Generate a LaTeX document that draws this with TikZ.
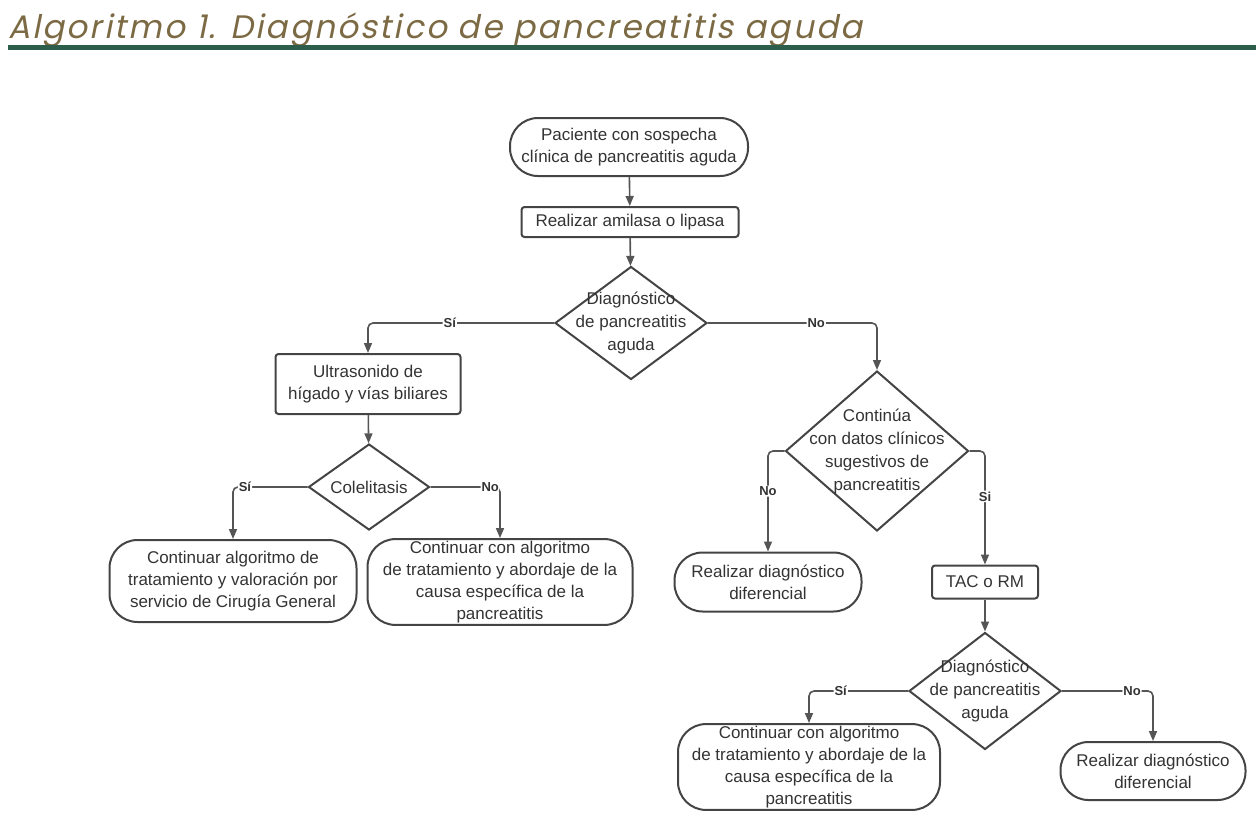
\documentclass[tikz,border=0pt]{standalone}
\usepackage{fontspec}
\setmainfont{Liberation Sans}
\newfontfamily\titlefont[FakeSlant=0.2,LetterSpace=7]{Poppins}
\usetikzlibrary{arrows.meta,shapes.geometric}
\definecolor{titlebrown}{HTML}{7B6A43}
\definecolor{bargreen}{HTML}{2D5E4B}
\definecolor{linegray}{HTML}{555555}
\definecolor{boxgray}{HTML}{444444}
\definecolor{txtgray}{HTML}{333333}

\begin{document}
\begin{tikzpicture}[
  x=1pt, y=-1pt,
  >={Triangle[length=10pt,width=8pt]},
  box/.style={draw=boxgray, line width=2pt, align=center, inner sep=2pt, text=txtgray,
    font=\fontsize{17}{22}\selectfont},
  proc/.style={box, rounded corners=3pt},
  term/.style={box, rounded corners=28pt},
  decision/.style={diamond, draw=boxgray, line width=2pt, inner sep=0pt},
  dtext/.style={align=center, text=txtgray, font=\fontsize{17}{23}\selectfont},
  flow/.style={->, line width=1.6pt, draw=linegray, rounded corners=5pt},
  lbl/.style={fill=white, inner sep=1pt, text=txtgray, font=\fontsize{13}{13}\selectfont\bfseries},
]
  \useasboundingbox (0,0) rectangle (1256,820);

  % heading
  \node[anchor=base west, inner sep=0pt, text=titlebrown, font=\fontsize{32.5}{32}\titlefont] (title) at (8,38)
    {Algoritmo 1. Diagnóstico de pancreatitis aguda};
  \fill[bargreen] (8,45) rectangle (1256,50);

  \node[term, minimum width=238pt, minimum height=58pt] (start) at (629,147)
    {Paciente con sospecha\\clínica de pancreatitis aguda};
  \node[proc, minimum width=217pt, minimum height=30pt] (lab) at (630,222) {Realizar amilasa o lipasa};
  \node[decision, minimum width=152pt, minimum height=113pt,
    label={[dtext]center:Diagnóstico\\de pancreatitis\\aguda}] (dx1) at (631,323) {};

  \node[proc, minimum width=185pt, minimum height=60pt] (usg) at (368,384)
    {Ultrasonido de\\hígado y vías biliares};
  \node[decision, minimum width=121pt, minimum height=86pt,
    label={[dtext]center:Colelitasis}] (cole) at (369,487) {};
  \node[term, minimum width=247pt, minimum height=82pt] (cirugia) at (233,581)
    {Continuar algoritmo de\\tratamiento y valoración por\\servicio de Cirugía General};
  \node[term, minimum width=265pt, minimum height=85pt] (causa1) at (500,582)
    {Continuar con algoritmo\\de tratamiento y abordaje de la\\causa específica de la\\pancreatitis};

  \node[decision, minimum width=183pt, minimum height=160pt,
    label={[dtext]center:Continúa\\con datos clínicos\\sugestivos de\\pancreatitis}] (clin) at (877,451) {};
  \node[term, minimum width=187pt, minimum height=59pt] (difer1) at (768,582)
    {Realizar diagnóstico\\diferencial};
  \node[proc, minimum width=106pt, minimum height=33pt] (tac) at (985,582) {TAC o RM};
  \node[decision, minimum width=152pt, minimum height=117pt,
    label={[dtext]center:Diagnóstico\\de pancreatitis\\aguda}] (dx2) at (985,691) {};
  \node[term, minimum width=262pt, minimum height=78pt] (causa2) at (809,767)
    {Continuar con algoritmo\\de tratamiento y abordaje de la\\causa específica de la\\pancreatitis};
  \node[term, minimum width=185pt, minimum height=58pt] (difer2) at (1153,771)
    {Realizar diagnóstico\\diferencial};

  \draw[flow] (start) -- (lab);
  \draw[flow] (lab) -- (dx1);
  \draw[flow] (dx1.west) -| node[lbl, pos=0.28] {Sí} (usg.north);
  \draw[flow] (dx1.east) -| node[lbl, pos=0.32] {No} (clin.north);
  \draw[flow] (usg) -- (cole);
  \draw[flow] (cole.west) -| node[lbl, pos=0.42] {Sí} (cirugia.north);
  \draw[flow] (cole.east) -| node[lbl, pos=0.43] {No} (causa1.north);
  \draw[flow] (clin.west) -| node[lbl, pos=0.70] {No} (difer1.north);
  \draw[flow] (clin.east) -| node[lbl, pos=0.70] {Si} (tac.north);
  \draw[flow] (tac) -- (dx2);
  \draw[flow] (dx2.west) -| node[lbl, pos=0.34] {Sí} (causa2.north);
  \draw[flow] (dx2.east) -| node[lbl, pos=0.385] {No} (difer2.north);
\end{tikzpicture}
\end{document}
